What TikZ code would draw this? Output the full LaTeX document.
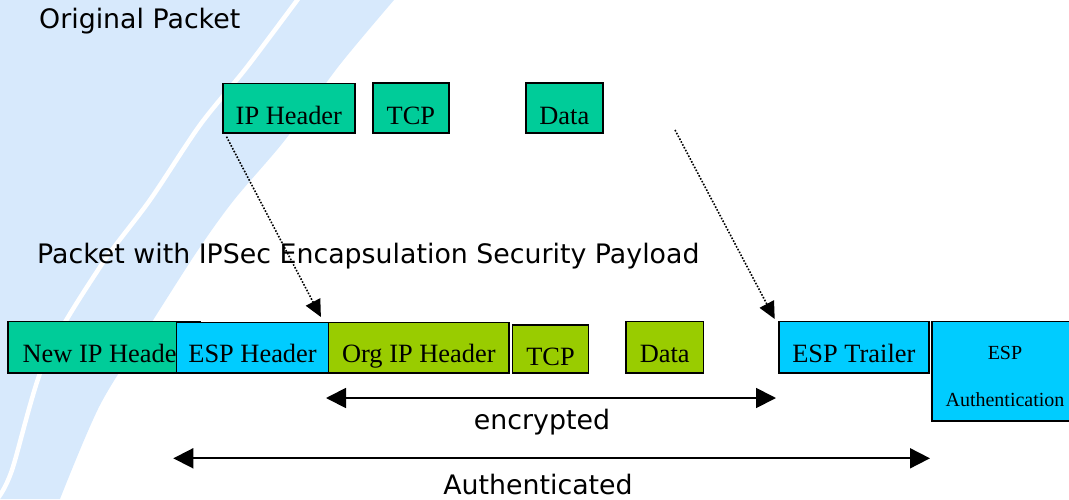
\documentclass[tikz,border=0pt]{standalone}
\usepackage{fontspec}
\setmainfont{Liberation Serif}
\newfontfamily\sansf{DejaVu Sans}
\usetikzlibrary{arrows.meta}
\newcommand\bigsans{\sansf\fontsize{26.8}{30}\selectfont}
\newcommand\bigserif{\rmfamily\fontsize{26.4}{30}\selectfont}
\newcommand\smallserif{\rmfamily\fontsize{20}{24}\selectfont}
\definecolor{bgblue}{RGB}{215,233,252}
\definecolor{pgreen}{RGB}{0,204,153}
\definecolor{plime}{RGB}{153,204,0}
\definecolor{pcyan}{RGB}{0,204,255}
\tikzset{
  pbox/.style={draw=black, line width=1.7pt, inner xsep=0pt, inner ysep=0pt,
               anchor=north west, font=\bigserif},
  greenbox/.style={pbox, fill=pgreen},
  limebox/.style={pbox, fill=plime},
  cyanbox/.style={pbox, fill=pcyan},
  caption/.style={font=\bigsans, inner sep=0pt},
  bigarrow/.style={line width=1.8pt, {Triangle[length=20pt,width=20pt]}-{Triangle[length=20pt,width=20pt]}},
  dotarrow/.style={line width=1.6pt, dash pattern=on 1.6pt off 1.6pt, -{Triangle[length=17pt,width=16pt]}}
}
\begin{document}
\begin{tikzpicture}[x=1pt,y=-1pt]
\useasboundingbox (0,0) rectangle (1069,499);
\clip (0,0) rectangle (1069,499);
% background swoosh
\fill[bgblue] (0,0) -- plot[smooth] coordinates {(394,0) (338,67) (285,140) (234,200) (198,250) (150,325) (100,405) (60,499)} -- (0,499) -- cycle;
\draw[white, line width=4.5pt] plot[smooth] coordinates {(301,-5) (247,67) (200,125) (150,200) (100,267) (45,360) (12,470) (-2,498)};

% captions
\node[caption, anchor=base west] (orig) at (39,28.3) {Original Packet};
\node[caption, anchor=base west] (esp) at (37,263.3) {Packet with IPSec Encapsulation Security Payload};

% original packet
\node[greenbox, minimum width=132pt, minimum height=49.5pt, text height=40.8pt, text depth=8.7pt] (ipA) at (222,82.5) {IP Header};
\node[greenbox, minimum width=76pt, minimum height=50pt, text height=41.3pt, text depth=8.7pt] (tcpA) at (372,82) {TCP};
\node[greenbox, minimum width=77pt, minimum height=50pt, text height=41.3pt, text depth=8.7pt] (dataA) at (525,82) {Data};

% encapsulated packet
\node[greenbox, minimum width=191.7pt, minimum height=51.6pt, text height=40.6pt, text depth=11pt] (newip) at (7.3,320.7) {New IP Header};
\node[cyanbox, minimum width=152pt, minimum height=50.8pt, text height=40.2pt, text depth=10.6pt] (esphdr) at (175.7,321.5) {ESP Header};
\node[limebox, minimum width=180.6pt, minimum height=50.6pt, text height=40pt, text depth=10.6pt] (orgip) at (327.7,321.7) {Org IP Header};
\node[limebox, minimum width=76pt, minimum height=48.3pt, text height=40.3pt, text depth=8pt] (tcpB) at (511.7,324) {TCP};
\node[limebox, minimum width=77.7pt, minimum height=51.3pt, text height=40.7pt, text depth=10.6pt] (dataB) at (625,320.7) {Data};
\node[cyanbox, minimum width=150pt, minimum height=51.6pt, text height=41pt, text depth=10.6pt] (trailer) at (778,320.7) {ESP Trailer};
\node[cyanbox, minimum width=147.7pt, minimum height=99.3pt] (auth) at (931.3,320.7) {};
\node[font=\smallserif, anchor=base, inner sep=0pt] (authA) at (1005,359) {ESP};
\node[font=\smallserif, anchor=base, inner sep=0pt] (authB) at (1005,406) {Authentication};

% dotted mapping arrows
\coordinate (dotS) at (675,130);
\draw[dotarrow] ([shift={(4.5,3)}]ipA.south west) -- ([shift={(-8.5,-4.5)}]esphdr.north east);
\draw[dotarrow] (dotS) -- ([shift={(-3.3,-1.7)}]trailer.north west);

% range arrows
\coordinate (encL) at (326,398);
\coordinate (encR) at (776,398);
\coordinate (autL) at (173.3,458.3);
\coordinate (autR) at (930,458.3);
\draw[bigarrow] (encL) -- (encR);
\draw[bigarrow] (autL) -- (autR);
\node[caption, anchor=base] (enc) at (542,429.5) {encrypted};
\node[caption, anchor=base] (aut) at (538,494) {Authenticated};
\end{tikzpicture}
\end{document}
